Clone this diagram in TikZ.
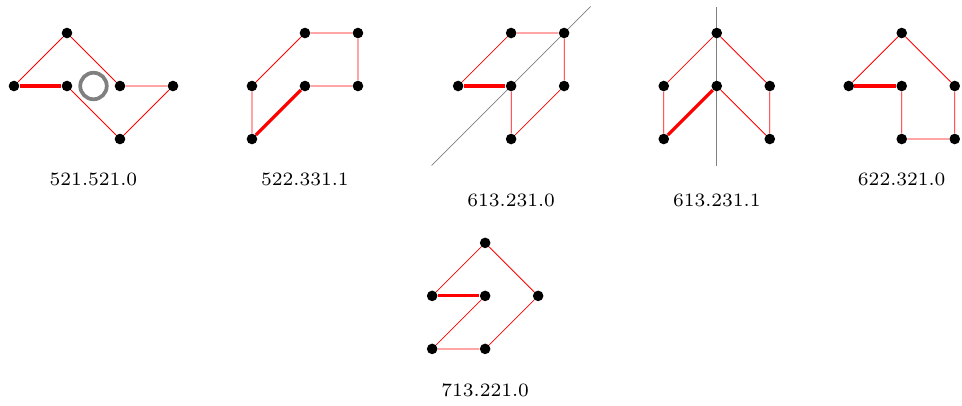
\documentclass[tikz,border=0pt]{standalone}
\usepackage{tikz}
\usetikzlibrary{positioning}

\begin{document}
\begin{tikzpicture}[
  dot/.style={circle, fill=black, inner sep=0pt, minimum size=0.2cm},
  edge/.style={red, line width=0.4pt},
  thickedge/.style={red, line width=1.7pt},
  mirror/.style={gray, line width=0.4pt},
  hole/.style={draw=gray, line width=2pt, circle, inner sep=0pt, minimum size=0.5cm},
  tag/.style={anchor=base, font=\fontsize{7pt}{8pt}\selectfont, scale=1.45, transform shape}
]
\useasboundingbox (-0.264,-5.019) rectangle (17.887,2.623);

\begin{scope}
\node[dot] (a1) at (0,1) {};
\node[dot] (a2) at (1,2) {};
\node[dot] (a3) at (1,1) {};
\node[dot] (a4) at (2,1) {};
\node[dot] (a5) at (3,1) {};
\node[dot] (a6) at (2,0) {};
\node[hole] (ahole) at (1.5,1) {};
\draw[thickedge] (a1) -- (a3);
\draw[edge] (a1) -- (a2) -- (a4) -- (a5) -- (a6) -- (a3);
\node[tag] (alabel) at (1.5,-0.88) {521.521.0};
\end{scope}

\begin{scope}[shift={(4.49,0)}]
\node[dot] (b1) at (0,1) {};
\node[dot] (b2) at (1,2) {};
\node[dot] (b3) at (2,2) {};
\node[dot] (b4) at (2,1) {};
\node[dot] (b5) at (1,1) {};
\node[dot] (b6) at (0,0) {};
\draw[thickedge] (b6) -- (b5);
\draw[edge] (b5) -- (b4) -- (b3) -- (b2) -- (b1) -- (b6);
\node[tag] (blabel) at (1,-0.88) {522.331.1};
\end{scope}

\begin{scope}[shift={(8.38,0)}]
\coordinate (cfrom) at (-0.5,-0.5);
\coordinate (cto) at (2.5,2.5);
\draw[mirror] (cfrom) -- (cto);
\node[dot] (c1) at (0,1) {};
\node[dot] (c2) at (1,2) {};
\node[dot] (c3) at (2,2) {};
\node[dot] (c4) at (2,1) {};
\node[dot] (c5) at (1,1) {};
\node[dot] (c6) at (1,0) {};
\draw[thickedge] (c1) -- (c5);
\draw[edge] (c1) -- (c2) -- (c3) -- (c4) -- (c6) -- (c5);
\node[tag] (clabel) at (1,-1.28) {613.231.0};
\end{scope}

\begin{scope}[shift={(12.26,0)}]
\coordinate (dfrom) at (1,-0.5);
\coordinate (dto) at (1,2.5);
\draw[mirror] (dfrom) -- (dto);
\node[dot] (d1) at (1,2) {};
\node[dot] (d2) at (0,1) {};
\node[dot] (d3) at (1,1) {};
\node[dot] (d4) at (2,1) {};
\node[dot] (d5) at (0,0) {};
\node[dot] (d6) at (2,0) {};
\draw[thickedge] (d5) -- (d3);
\draw[edge] (d5) -- (d2) -- (d1) -- (d4) -- (d6) -- (d3);
\node[tag] (dlabel) at (1,-1.28) {613.231.1};
\end{scope}

\begin{scope}[shift={(15.75,0)}]
\node[dot] (e1) at (0,1) {};
\node[dot] (e2) at (1,2) {};
\node[dot] (e3) at (2,1) {};
\node[dot] (e4) at (1,1) {};
\node[dot] (e5) at (1,0) {};
\node[dot] (e6) at (2,0) {};
\draw[thickedge] (e1) -- (e4);
\draw[edge] (e1) -- (e2) -- (e3) -- (e6) -- (e5) -- (e4);
\node[tag] (elabel) at (1,-0.88) {622.321.0};
\end{scope}

\begin{scope}[shift={(7.89,-3.96)}]
\node[dot] (f1) at (0,1) {};
\node[dot] (f2) at (1,2) {};
\node[dot] (f3) at (2,1) {};
\node[dot] (f4) at (1,1) {};
\node[dot] (f5) at (0,0) {};
\node[dot] (f6) at (1,0) {};
\draw[thickedge] (f1) -- (f4);
\draw[edge] (f1) -- (f2) -- (f3) -- (f6) -- (f5) -- (f4);
\node[tag] (flabel) at (1,-0.9) {713.221.0};
\end{scope}
\end{tikzpicture}
\end{document}
